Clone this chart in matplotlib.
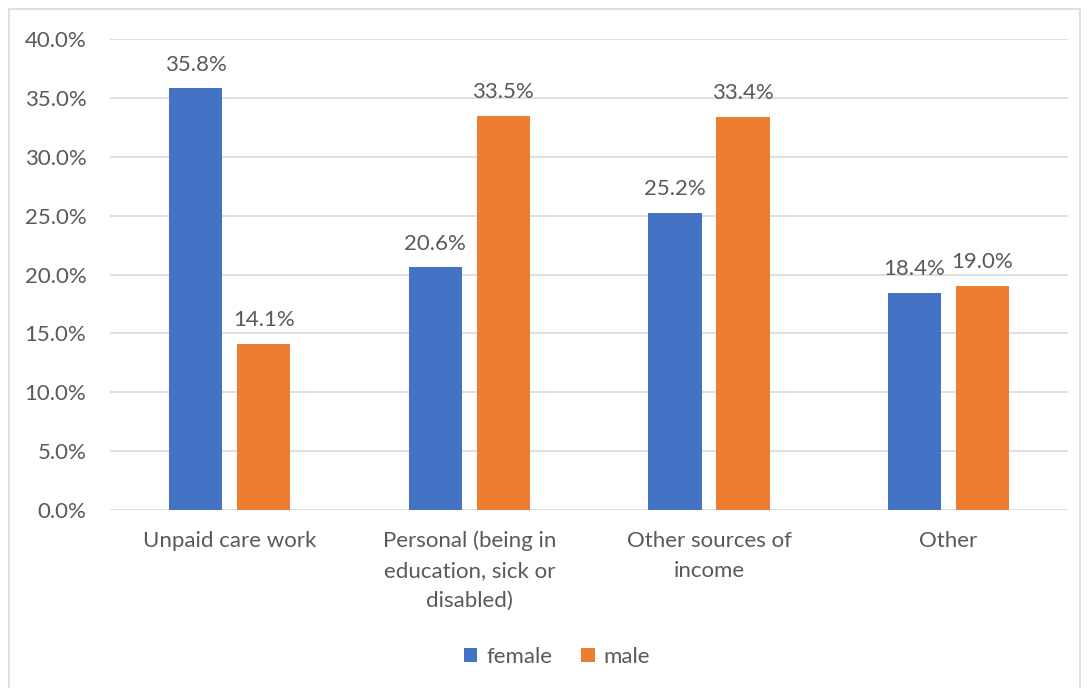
import numpy as np
import matplotlib.pyplot as plt
from matplotlib.patches import Rectangle
from matplotlib.ticker import FuncFormatter

# reasons by sex, share of respondents (%)
categories = ["Unpaid care work", "Personal (being in\neducation, sick or\ndisabled)",
              "Other sources of\nincome", "Other"]
female = [35.8, 20.6, 25.2, 18.4]
male = [14.1, 33.5, 33.4, 19.0]

plt.rcParams['font.family'] = ['Lato', 'DejaVu Sans']
text_col = '#595959'
fs = 16

fig = plt.figure(figsize=(10.89, 6.88), dpi=100)
fig.patches.append(Rectangle((9 / 1089, -0.05), 1071 / 1089, 1.05 - 9 / 688,
                             transform=fig.transFigure, fill=False,
                             edgecolor='#d9d9d9', linewidth=1.2))
ax = fig.add_axes([0.101, 0.2587, 0.880, 0.6846])

x = np.arange(len(categories))
w = 0.222
off = 0.142
b1 = ax.bar(x - off, female, w, color='#4472C4', label='female', zorder=3)
b2 = ax.bar(x + off, male, w, color='#ED7D31', label='male', zorder=3)

for bars, vals in ((b1, female), (b2, male)):
    for rect, v in zip(bars, vals):
        ax.annotate(f"{v:.1f}%", (rect.get_x() + rect.get_width() / 2, v),
                    xytext=(0, 10), textcoords='offset points',
                    ha='center', va='bottom', fontsize=fs, color=text_col)

ax.set_xlim(-0.5, 3.5)
ax.set_ylim(0, 40)
ax.set_yticks(np.arange(0, 40.1, 5))
ax.yaxis.set_major_formatter(FuncFormatter(lambda v, p: f"{v:.1f}%"))
ax.set_xticks(x)
ax.set_xticklabels(categories, linespacing=1.62, va='top')
ax.tick_params(axis='both', length=0, labelsize=fs, labelcolor=text_col)
ax.tick_params(axis='y', pad=17)
ax.tick_params(axis='x', pad=15)
ax.grid(axis='y', color='#d9d9d9', linewidth=1.2, zorder=0)
for s in ax.spines.values():
    s.set_visible(False)

fig.legend(loc='center', bbox_to_anchor=(0.5115, 1 - 657 / 688), ncol=2, frameon=False,
           fontsize=fs, labelcolor=text_col, handlelength=0.6, handleheight=0.6,
           handletextpad=0.4, columnspacing=1.3)

fig.savefig('out.png', dpi=100)
